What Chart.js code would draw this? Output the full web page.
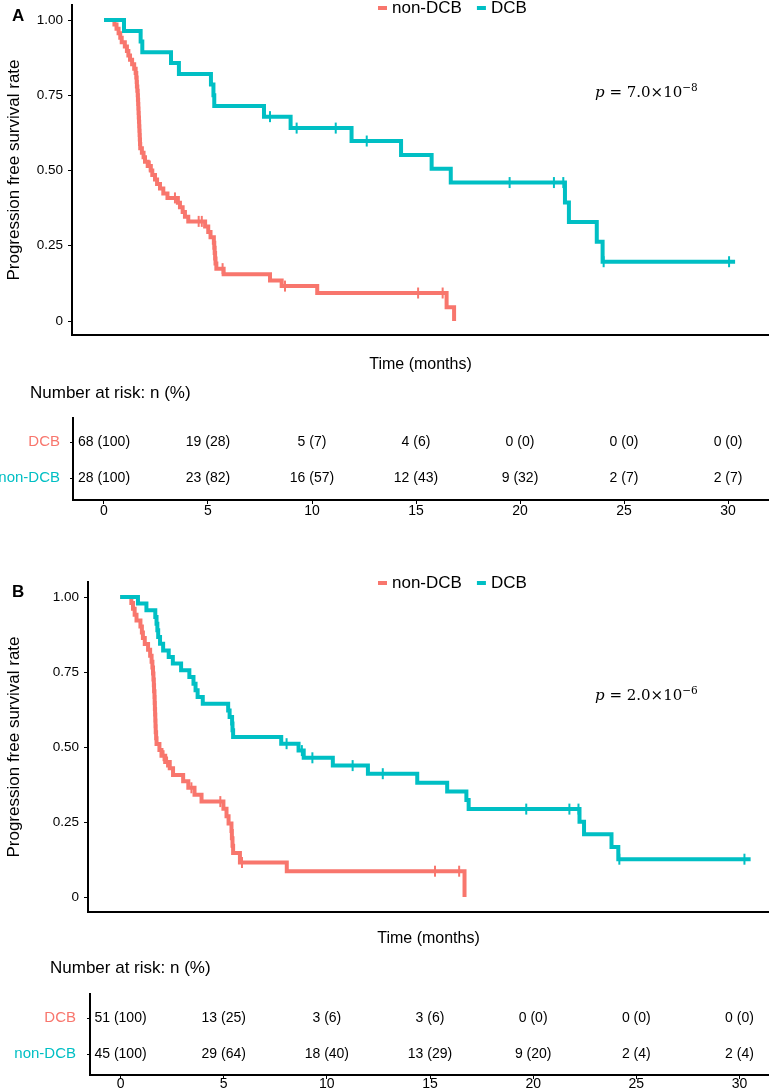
<!DOCTYPE html>
<html>
<head>
<meta charset="utf-8">
<script src="https://cdn.jsdelivr.net/npm/chart.js@4.4.0/dist/chart.umd.min.js"></script>
<style>
  html, body { margin: 0; padding: 0; background: #fff; }
  body { width: 769px; height: 1089px; position: relative; overflow: hidden; font-family: 'Liberation Sans', Arial, sans-serif; }
  canvas { position: absolute; left: 0; }
  .tag { position: absolute; left: 12px; font-weight: bold; font-size: 17px; line-height: 17px; }
  .nar { position: absolute; font-size: 17px; line-height: 20px; white-space: nowrap; }
  .pval { position: absolute; left: 595px; font-family: 'DejaVu Serif', serif; font-size: 15px; line-height: 18px; white-space: nowrap; }
  .pval sup { font-size: 10.5px; vertical-align: 6px; line-height: 0; }
</style>
</head>
<body>
<canvas id="kmA" width="769" height="380" style="top:0px"></canvas>
<canvas id="riskA" width="769" height="150" style="top:380px"></canvas>
<canvas id="kmB" width="769" height="385" style="top:570px"></canvas>
<canvas id="riskB" width="769" height="150" style="top:955px"></canvas>
<div class="tag" style="top:7px">A</div>
<div class="tag" style="top:583px">B</div>
<div class="pval" id="pA" style="top:83px"></div>
<div class="pval" id="pB" style="top:686px"></div>
<div class="nar" style="left:30px;top:383px">Number at risk: n (%)</div>
<div class="nar" style="left:50px;top:958px">Number at risk: n (%)</div>
<script>
// ---- Panel A: Kaplan-Meier curves ----
const aNonT = [0, 0.50, 0.60, 0.70, 0.78, 0.85, 1.00, 1.10, 1.17, 1.25, 1.35, 1.45, 1.52, 1.55, 1.57, 1.58, 1.60, 1.62, 1.63, 1.64,
  1.65, 1.66, 1.67, 1.68, 1.69, 1.70, 1.71, 1.72, 1.73, 1.74, 1.82, 1.90, 1.97, 2.10, 2.25, 2.32, 2.45, 2.55, 2.69, 2.85,
  3.05, 3.55, 3.65, 3.78, 3.89, 4.05, 4.86, 5.01, 5.12, 5.28, 5.30, 5.32, 5.34, 5.36, 5.40, 5.75, 7.98, 8.54, 10.25, 16.47, 16.83];
const aNonS = [1, 0.985, 0.971, 0.956, 0.941, 0.926, 0.912, 0.897, 0.882, 0.868, 0.853, 0.838, 0.824, 0.809, 0.794, 0.779, 0.765, 0.750, 0.735, 0.721,
  0.706, 0.691, 0.676, 0.662, 0.647, 0.632, 0.618, 0.603, 0.588, 0.574, 0.559, 0.544, 0.529, 0.515, 0.500, 0.485, 0.470, 0.455, 0.440, 0.424,
  0.409, 0.393, 0.378, 0.362, 0.346, 0.331, 0.314, 0.296, 0.278, 0.260, 0.243, 0.226, 0.208, 0.191, 0.174, 0.155, 0.135, 0.116, 0.093, 0.046, 0];
const aNonCensT = [2.20, 3.41, 4.55, 4.70, 5.70, 8.70, 15.10, 16.28];
const aNonCensS = [0.515, 0.409, 0.331, 0.331, 0.174, 0.116, 0.093, 0.093];

const aDcbT = [0, 0.96, 1.76, 1.84, 3.22, 3.60, 5.14, 5.26, 5.30, 7.69, 8.97, 11.90, 14.28, 15.75, 16.67, 22.16, 22.35, 23.69, 23.97, 30.34];
const aDcbS = [1, 0.964, 0.929, 0.893, 0.857, 0.821, 0.786, 0.750, 0.714, 0.679, 0.641, 0.598, 0.552, 0.506, 0.460, 0.394, 0.329, 0.263, 0.197, 0.197];
const aDcbCensT = [7.98, 9.26, 11.14, 12.63, 19.50, 21.63, 22.08, 24.02, 30.05];
const aDcbCensS = [0.679, 0.641, 0.641, 0.598, 0.460, 0.460, 0.460, 0.197, 0.197];

// ---- Panel B: Kaplan-Meier curves ----
const bNonT = [0, 0.54, 0.62, 0.70, 0.79, 0.98, 1.05, 1.10, 1.19, 1.35, 1.45, 1.52, 1.56, 1.59, 1.61, 1.63, 1.64, 1.66, 1.67, 1.68,
  1.69, 1.70, 1.71, 1.72, 1.74, 1.76, 1.90, 2.00, 2.18, 2.40, 2.56, 3.05, 3.30, 3.60, 3.94, 5.00, 5.15, 5.25, 5.39, 5.41,
  5.44, 5.47, 5.80, 8.07, 16.68];
const bNonS = [1, 0.980, 0.961, 0.941, 0.922, 0.902, 0.882, 0.863, 0.843, 0.824, 0.804, 0.784, 0.765, 0.745, 0.725, 0.706, 0.686, 0.667, 0.647, 0.627,
  0.608, 0.588, 0.569, 0.549, 0.529, 0.510, 0.490, 0.471, 0.450, 0.429, 0.407, 0.386, 0.364, 0.341, 0.318, 0.294, 0.269, 0.245, 0.220, 0.196,
  0.171, 0.147, 0.115, 0.086, 0];
const bNonCensT = [2.10, 2.27, 3.45, 4.85, 5.90, 15.25, 16.42];
const bNonCensS = [0.471, 0.450, 0.364, 0.318, 0.115, 0.086, 0.086];

const bDcbT = [0, 0.86, 1.27, 1.70, 1.76, 1.80, 1.84, 1.93, 2.08, 2.35, 2.55, 2.95, 3.35, 3.55, 3.65, 3.75, 4.00, 5.23, 5.30, 5.42,
  5.44, 5.47, 7.80, 8.64, 8.89, 10.30, 12.00, 14.39, 15.84, 16.77, 16.88, 22.25, 22.47, 23.80, 24.13, 30.54];
const bDcbS = [1, 0.978, 0.956, 0.933, 0.911, 0.889, 0.867, 0.844, 0.822, 0.800, 0.778, 0.756, 0.733, 0.711, 0.689, 0.667, 0.644, 0.622, 0.600, 0.578,
  0.556, 0.533, 0.511, 0.488, 0.464, 0.438, 0.411, 0.381, 0.352, 0.323, 0.293, 0.251, 0.209, 0.167, 0.126, 0.126];
const bDcbCensT = [8.06, 8.80, 9.31, 11.26, 12.72, 19.67, 21.76, 22.20, 24.18, 30.24];
const bDcbCensS = [0.511, 0.488, 0.464, 0.438, 0.411, 0.293, 0.293, 0.293, 0.126, 0.126];

// ---- axis ticks ----
const yTickVals = [0, 0.25, 0.5, 0.75, 1];
const yTickLabels = ['0', '0.25', '0.50', '0.75', '1.00'];

// ---- number at risk tables ----
const riskTimes = [0, 5, 10, 15, 20, 25, 30];
const riskRows = ['DCB', 'non-DCB'];
const aRiskDcbN = [68, 19, 5, 4, 0, 0, 0];
const aRiskDcbPct = [100, 28, 7, 6, 0, 0, 0];
const aRiskNonN = [28, 23, 16, 12, 9, 2, 2];
const aRiskNonPct = [100, 82, 57, 43, 32, 7, 7];
const bRiskDcbN = [51, 13, 3, 3, 0, 0, 0];
const bRiskDcbPct = [100, 25, 6, 6, 0, 0, 0];
const bRiskNonN = [45, 29, 18, 13, 9, 2, 2];
const bRiskNonPct = [100, 64, 40, 29, 20, 4, 4];

const pValues = [['7.0', '−8'], ['2.0', '−6']];

const RED = '#F8766D';
const TEAL = '#00BFC4';
const riskRowColors = [RED, TEAL];

Chart.defaults.font.family = "'Liberation Sans', Arial, Helvetica, sans-serif";
Chart.defaults.color = '#000';

function pts(t, s) {
  return t.map((x, i) => ({ x: x, y: s[i] }));
}

// legend drawn from the curve datasets
const kmLegend = {
  id: 'kmLegend',
  afterDraw(chart, args, opts) {
    const ctx = chart.ctx;
    ctx.save();
    ctx.font = "17px 'Liberation Sans', Arial, sans-serif";
    ctx.textBaseline = 'middle';
    let x = opts.x;
    chart.data.datasets.filter(d => !d.censor).forEach(d => {
      ctx.fillStyle = d.borderColor;
      ctx.fillRect(x, opts.y - 2, 9, 4);
      x += 14;
      ctx.fillStyle = '#000';
      ctx.fillText(d.label, x, opts.y);
      x += ctx.measureText(d.label).width + 15;
    });
    ctx.restore();
  }
};

// risk table cells, placed through the scales
const riskText = {
  id: 'riskText',
  afterDatasetsDraw(chart) {
    const ctx = chart.ctx;
    ctx.save();
    ctx.font = "14px 'Liberation Sans', Arial, sans-serif";
    ctx.fillStyle = '#000';
    ctx.textAlign = 'center';
    ctx.textBaseline = 'middle';
    chart.data.datasets.forEach((ds, di) => {
      chart.getDatasetMeta(di).data.forEach((el, i) => {
        ctx.fillText(ds.texts[i], el.x, el.y);
      });
    });
    ctx.restore();
  }
};

function makeKm(id, p) {
  return new Chart(document.getElementById(id), {
    type: 'line',
    data: {
      datasets: [
        { label: 'non-DCB', data: pts(p.nonT, p.nonS), borderColor: RED, borderWidth: 4, stepped: 'before', pointRadius: 0, fill: false, order: 2 },
        { label: 'DCB', data: pts(p.dcbT, p.dcbS), borderColor: TEAL, borderWidth: 4, stepped: 'before', pointRadius: 0, fill: false, order: 1 },
        { label: 'non-DCB censored', censor: true, data: pts(p.nonCT, p.nonCS), showLine: false, pointStyle: 'line', pointRotation: 90,
          pointRadius: 5.5, pointBorderWidth: 2, pointBorderColor: RED, pointBackgroundColor: RED, order: 0 },
        { label: 'DCB censored', censor: true, data: pts(p.dcbCT, p.dcbCS), showLine: false, pointStyle: 'line', pointRotation: 90,
          pointRadius: 5.5, pointBorderWidth: 2, pointBorderColor: TEAL, pointBackgroundColor: TEAL, order: 0 }
      ]
    },
    options: {
      responsive: false,
      animation: false,
      events: [],
      layout: { autoPadding: false, padding: { top: p.padTop, left: 0, right: 0, bottom: 0 } },
      plugins: {
        legend: { display: false },
        tooltip: { enabled: false },
        kmLegend: { x: 378, y: p.legendY }
      },
      scales: {
        x: {
          type: 'linear', min: p.xMin, max: p.xMax,
          grid: { display: false },
          ticks: { display: false },
          border: { display: true, color: '#000', width: 2 },
          title: { display: true, text: 'Time (months)', color: '#000', font: { size: 16 }, padding: { top: 0, bottom: p.titlePad } },
          afterFit: s => { s.height = p.xAxisH; s.paddingLeft = 0; s.paddingRight = 0; }
        },
        y: {
          type: 'linear', min: p.yMin, max: p.yMax,
          afterBuildTicks: s => { s.ticks = yTickVals.map(v => ({ value: v })); },
          ticks: { callback: v => yTickLabels[yTickVals.indexOf(v)], color: '#000', font: { size: 13.5 }, padding: 5 },
          grid: { drawOnChartArea: false, drawTicks: true, tickLength: 4, color: '#000', lineWidth: 1 },
          border: { display: true, color: '#000', width: 2 },
          title: { display: true, text: 'Progression free survival rate', color: '#000', font: { size: 17 }, padding: { top: 4, bottom: 0 } },
          afterFit: s => { s.width = p.yAxisW; s.paddingTop = 0; s.paddingBottom = 0; }
        }
      }
    },
    plugins: [kmLegend]
  });
}

function makeRisk(id, p) {
  return new Chart(document.getElementById(id), {
    type: 'scatter',
    data: {
      datasets: [
        { label: riskRows[0], data: riskTimes.map(t => ({ x: t, y: 0 })), texts: p.dcbN.map((n, i) => n + ' (' + p.dcbPct[i] + ')'), pointRadius: 0 },
        { label: riskRows[1], data: riskTimes.map(t => ({ x: t, y: 1 })), texts: p.nonN.map((n, i) => n + ' (' + p.nonPct[i] + ')'), pointRadius: 0 }
      ]
    },
    options: {
      responsive: false,
      animation: false,
      events: [],
      layout: { autoPadding: false, padding: { left: 0, top: p.padTop, right: 0, bottom: 0 } },
      plugins: {
        legend: { display: false },
        tooltip: { enabled: false }
      },
      scales: {
        x: {
          type: 'linear', min: p.xMin, max: p.xMax,
          afterBuildTicks: s => { s.ticks = riskTimes.map(v => ({ value: v })); },
          ticks: { color: '#000', font: { size: 14, lineHeight: 1 }, padding: p.tickPad, maxRotation: 0, autoSkip: false },
          grid: { drawOnChartArea: false, tickLength: 4, color: '#000' },
          border: { display: true, color: '#000', width: 2 },
          afterFit: s => { s.height = p.xAxisH; s.paddingLeft = 0; s.paddingRight = 0; }
        },
        y: {
          type: 'linear', reverse: true, min: p.yMin, max: p.yMax,
          afterBuildTicks: s => { s.ticks = [{ value: 0 }, { value: 1 }]; },
          ticks: { callback: v => riskRows[v], color: c => riskRowColors[c.index], font: { size: 15 }, padding: p.rowPad },
          grid: { drawOnChartArea: false, tickLength: 3, color: '#000' },
          border: { display: true, color: '#000', width: 2 },
          afterFit: s => { s.width = p.yAxisW; s.paddingTop = 0; s.paddingBottom = 0; }
        }
      }
    },
    plugins: [riskText]
  });
}

makeKm('kmA', {
  nonT: aNonT, nonS: aNonS, nonCT: aNonCensT, nonCS: aNonCensS,
  dcbT: aDcbT, dcbS: aDcbS, dcbCT: aDcbCensT, dcbCS: aDcbCensS,
  padTop: 5, xAxisH: 45, titlePad: 5.4, yAxisW: 72,
  xMin: -1.54, xMax: 31.97, yMin: -0.0465, yMax: 1.05, legendY: 8
});
makeRisk('riskA', {
  dcbN: aRiskDcbN, dcbPct: aRiskDcbPct, nonN: aRiskNonN, nonPct: aRiskNonPct,
  padTop: 38, xAxisH: 30, yAxisW: 73, rowPad: 10, tickPad: 0,
  xMin: -1.49, xMax: 31.97, yMin: -0.667, yMax: 1.611
});
makeKm('kmB', {
  nonT: bNonT, nonS: bNonS, nonCT: bNonCensT, nonCS: bNonCensS,
  dcbT: bDcbT, dcbS: bDcbS, dcbCT: bDcbCensT, dcbCS: bDcbCensS,
  padTop: 12, xAxisH: 43, titlePad: 6.4, yAxisW: 88,
  xMin: -1.56, xMax: 31.43, yMin: -0.05, yMax: 1.05, legendY: 13
});
makeRisk('riskB', {
  dcbN: bRiskDcbN, dcbPct: bRiskDcbPct, nonN: bRiskNonN, nonPct: bRiskNonPct,
  padTop: 39, xAxisH: 30, yAxisW: 90, rowPad: 11, tickPad: -2,
  xMin: -1.48, xMax: 31.43, yMin: -0.667, yMax: 1.583
});

['pA', 'pB'].forEach((id, i) => {
  document.getElementById(id).innerHTML = '<i>p</i> = ' + pValues[i][0] + '×10<sup>' + pValues[i][1] + '</sup>';
});
</script>
</body>
</html>
